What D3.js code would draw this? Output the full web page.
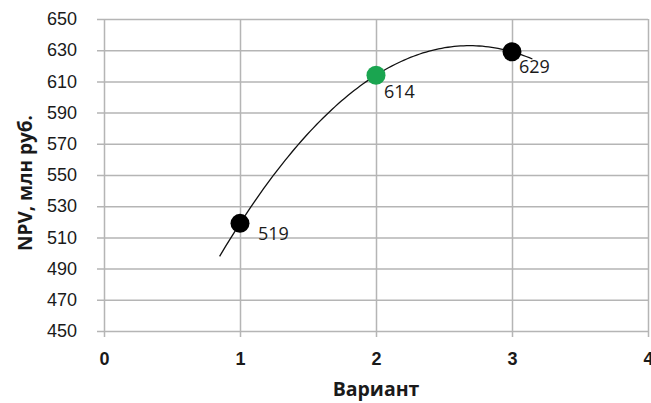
<!DOCTYPE html>
<html>
<head>
<meta charset="utf-8">
<script src="https://cdn.jsdelivr.net/npm/d3@7"></script>
<style>
  html, body { margin: 0; padding: 0; background: #fff; }
  svg { display: block; font-family: "Open Sans", "Noto Sans", sans-serif; }
</style>
</head>
<body>
<svg id="chart" width="651" height="403"></svg>
<script>
// Варианты и значения NPV, млн руб.
const variants = [1, 2, 3];
const npvValues = [519, 614, 629];
const pointColors = ["#000000", "#1aa550", "#000000"];
const xTicks = [0, 1, 2, 3, 4];
const yTicks = [450, 470, 490, 510, 530, 550, 570, 590, 610, 630, 650];
const xTitle = "Вариант";
const yTitle = "NPV, млн руб.";

const svg = d3.select("#chart");
const plot = { left: 104, right: 648, top: 19, bottom: 331 };

const x = d3.scaleLinear().domain([0, 4]).range([plot.left, plot.right]);
const y = d3.scaleLinear().domain([450, 650]).range([plot.bottom, plot.top]);

// Сетка и засечки
const gridColor = "#b5b5b5";
const yAxis = d3.axisLeft(y).tickValues(yTicks).tickSize(plot.right - plot.left + 7).tickPadding(20);
const gy = svg.append("g").attr("transform", `translate(${plot.right},0)`).call(yAxis);
gy.select(".domain").remove();
gy.selectAll("line").attr("stroke", gridColor).attr("stroke-width", 1.5);
gy.selectAll("text").attr("font-size", 18).attr("fill", "#1a1a1a");

const xAxis = d3.axisBottom(x).tickValues(xTicks).tickFormat(d3.format("d"))
  .tickSize(plot.bottom - plot.top + 6).tickPadding(15);
const gx = svg.append("g").attr("transform", `translate(0,${plot.top})`).call(xAxis);
gx.select(".domain").remove();
gx.selectAll("line").attr("stroke", gridColor).attr("stroke-width", 1.5);
gx.selectAll("text").attr("font-size", 18).attr("font-weight", "bold").attr("fill", "#1a1a1a");

// Полиномиальная линия тренда 2-й степени по точкам (метод наименьших квадратов)
function polyFit2(xs, ys) {
  const n = xs.length;
  const s = [0, 0, 0, 0, 0], t = [0, 0, 0];
  for (let i = 0; i < n; i++) {
    for (let k = 0; k < 5; k++) s[k] += Math.pow(xs[i], k);
    for (let k = 0; k < 3; k++) t[k] += ys[i] * Math.pow(xs[i], k);
  }
  const A = [[s[0], s[1], s[2], t[0]], [s[1], s[2], s[3], t[1]], [s[2], s[3], s[4], t[2]]];
  for (let c = 0; c < 3; c++) {
    for (let r = c + 1; r < 3; r++) {
      const f = A[r][c] / A[c][c];
      for (let k = c; k < 4; k++) A[r][k] -= f * A[c][k];
    }
  }
  const coef = [0, 0, 0];
  for (let r = 2; r >= 0; r--) {
    let v = A[r][3];
    for (let k = r + 1; k < 3; k++) v -= A[r][k] * coef[k];
    coef[r] = v / A[r][r];
  }
  return xv => coef[0] + coef[1] * xv + coef[2] * xv * xv;
}
const trend = polyFit2(variants, npvValues);
const extend = 0.15;
const xStart = d3.min(variants) - extend, xEnd = d3.max(variants) + extend;
const trendPts = d3.range(0, 101).map(i => {
  const xv = xStart + (xEnd - xStart) * i / 100;
  return [xv, trend(xv)];
});
svg.append("path")
  .datum(trendPts)
  .attr("fill", "none")
  .attr("stroke", "#111")
  .attr("stroke-width", 1.3)
  .attr("d", d3.line().x(d => x(d[0])).y(d => y(d[1])));

// Точки
const pts = variants.map((v, i) => ({ v, npv: npvValues[i], color: pointColors[i] }));
svg.append("g").selectAll("circle").data(pts).join("circle")
  .attr("cx", d => x(d.v)).attr("cy", d => y(d.npv))
  .attr("r", 9.5).attr("fill", d => d.color);

// Подписи значений
const labelOffsets = [[18, 17], [8, 23], [7, 21]];
svg.append("g").selectAll("text").data(pts).join("text")
  .attr("x", (d, i) => x(d.v) + labelOffsets[i][0])
  .attr("y", (d, i) => y(d.npv) + labelOffsets[i][1])
  .attr("font-size", 18).attr("fill", "#1a1a1a")
  .text(d => d.npv);

// Подписи осей
svg.append("text")
  .attr("x", (plot.left + plot.right) / 2).attr("y", 396)
  .attr("text-anchor", "middle")
  .attr("font-size", 19.5).attr("font-weight", "bold").attr("fill", "#1a1a1a")
  .text(xTitle);

svg.append("text")
  .attr("transform", "translate(32,183) rotate(-90)")
  .attr("text-anchor", "middle")
  .attr("font-size", 19).attr("font-weight", "bold").attr("fill", "#1a1a1a")
  .text(yTitle);
</script>
</body>
</html>
